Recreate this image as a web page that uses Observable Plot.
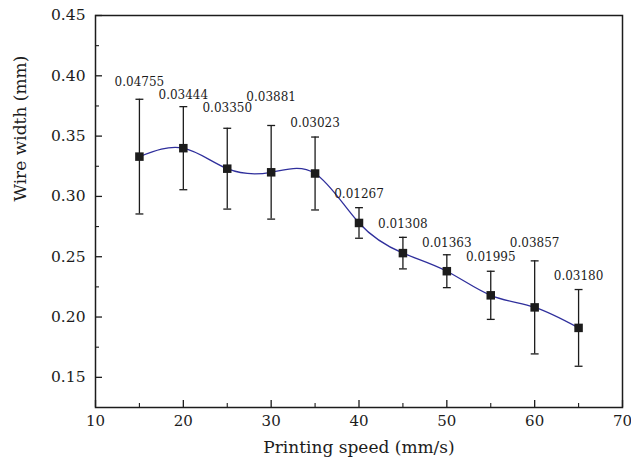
<!DOCTYPE html>
<html>
<head>
<meta charset="utf-8">
<script src="https://cdn.jsdelivr.net/npm/d3@7"></script>
<script src="https://cdn.jsdelivr.net/npm/@observablehq/plot@0.6"></script>
<style>
  html, body { margin: 0; padding: 0; background: #fff; }
</style>
</head>
<body>
<div id="chart"></div>
<script>
// Data
const speeds = [15, 20, 25, 30, 35, 40, 45, 50, 55, 60, 65];
const widths = [0.333, 0.340, 0.323, 0.320, 0.319, 0.278, 0.253, 0.238, 0.218, 0.208, 0.191];
const errors = [0.04755, 0.03444, 0.03350, 0.03881, 0.03023, 0.01267, 0.01308, 0.01363, 0.01995, 0.03857, 0.03180];
const errorLabels = ["0.04755", "0.03444", "0.03350", "0.03881", "0.03023", "0.01267", "0.01308", "0.01363", "0.01995", "0.03857", "0.03180"];
const xTicks = [10, 20, 30, 40, 50, 60, 70];
const xMinor = [15, 25, 35, 45, 55, 65];
const yTicks = [0.15, 0.20, 0.25, 0.30, 0.35, 0.40, 0.45];
const yMinor = [0.175, 0.225, 0.275, 0.325, 0.375, 0.425];

// label lift above the error-bar top (pixels)
const lift = [17, 11, 20, 28, 14, 14, 13, 12, 14, 18, 13];

const data = speeds.map((s, i) => ({x: s, y: widths[i], e: errors[i], label: errorLabels[i], i}));
const ink = "#1c1c1c";
const font = "DejaVu Serif";

const chart = Plot.plot({
  width: 631,
  height: 466,
  marginLeft: 95,
  marginRight: 9,
  marginTop: 15,
  marginBottom: 59,
  style: {fontFamily: font, fontSize: "15px", color: ink, background: "#fff"},
  x: {domain: [10, 70], axis: null},
  y: {domain: [0.125, 0.45], axis: null},
  marks: [
    // tick labels
    Plot.text(xTicks, {x: d => d, frameAnchor: "bottom", dy: 18, text: d => String(d), fontSize: 15, fill: ink}),
    Plot.text(yTicks, {y: d => d, frameAnchor: "left", dx: -10, textAnchor: "end", text: d => d3.format(".2f")(d), fontSize: 15.5, fill: ink}),
    // inward ticks
    Plot.axisX({ticks: xTicks, tickSize: 7, dy: -7, text: null, label: null, stroke: ink, strokeWidth: 1.3}),
    Plot.axisX({ticks: xMinor, tickSize: 4, dy: -4, text: null, label: null, stroke: ink, strokeWidth: 1.1}),
    Plot.axisY({ticks: yTicks, tickSize: 7, dx: 7, text: null, label: null, stroke: ink, strokeWidth: 1.3}),
    Plot.axisY({ticks: yMinor, tickSize: 4, dx: 4, text: null, label: null, stroke: ink, strokeWidth: 1.1}),
    Plot.frame({stroke: ink, strokeWidth: 1.5}),
    // axis titles
    Plot.text(["Printing speed (mm/s)"], {frameAnchor: "bottom", dy: 45, fontSize: 17, fill: ink}),
    Plot.text(["Wire width (mm)"], {frameAnchor: "left", rotate: -90, dx: -75, dy: -10, fontSize: 17, fill: ink}),
    // smooth curve
    Plot.line(data, {x: "x", y: "y", curve: "natural", stroke: "#2f2f9c", strokeWidth: 1.3}),
    // error bars
    Plot.ruleX(data, {x: "x", y1: d => d.y - d.e, y2: d => d.y + d.e, stroke: ink, strokeWidth: 1.3}),
    Plot.link(data, {x1: d => d.x - 0.45, x2: d => d.x + 0.45, y1: d => d.y + d.e, y2: d => d.y + d.e, stroke: ink, strokeWidth: 1.3}),
    Plot.link(data, {x1: d => d.x - 0.45, x2: d => d.x + 0.45, y1: d => d.y - d.e, y2: d => d.y - d.e, stroke: ink, strokeWidth: 1.3}),
    // square markers
    Plot.dot(data, {x: "x", y: "y", symbol: "square", r: 4.8, fill: ink, stroke: "none"}),
    // error value labels
    ...data.map(d => Plot.text([d], {x: "x", y: v => v.y + v.e, text: "label", dy: -lift[d.i], fontSize: 12, fill: ink}))
  ]
});

document.getElementById("chart").appendChild(chart);
</script>
</body>
</html>
